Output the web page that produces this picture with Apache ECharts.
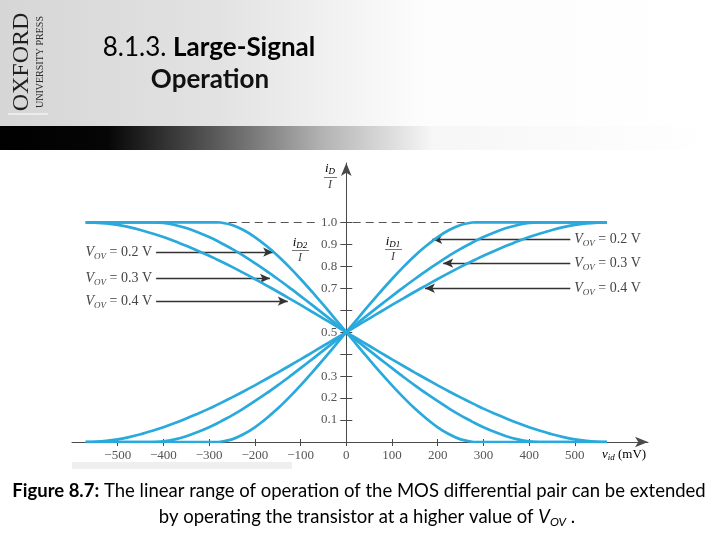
<!DOCTYPE html>
<html>
<head>
<meta charset="utf-8">
<script src="https://cdn.jsdelivr.net/npm/echarts@6/dist/echarts.min.js"></script>
<style>html,body{margin:0;padding:0;background:#fff}#c{width:720px;height:540px}</style>
</head>
<body>
<div id="c"></div>
<script>
// ---- data ----
const vid = [-570,-566,-550,-525,-500,-475,-450,-424,-400,-375,-350,-325,-300,-283,-275,-250,-225,-200,-175,-150,-125,-100,-75,-50,-25,0,25,50,75,100,125,150,175,200,225,250,275,283,300,325,350,375,400,424,450,475,500,525,550,566,570];
const iD1_02 = [0,0,0,0,0,0,0,0,0,0,0,0,0,0,0.001,0.012,0.035,0.067,0.107,0.152,0.203,0.258,0.316,0.376,0.438,0.5,0.562,0.624,0.684,0.742,0.797,0.848,0.893,0.933,0.965,0.988,0.999,1,1,1,1,1,1,1,1,1,1,1,1,1,1];
const iD1_03 = [0,0,0,0,0,0,0,0,0.003,0.012,0.026,0.045,0.067,0.084,0.093,0.121,0.152,0.186,0.221,0.258,0.296,0.336,0.376,0.417,0.458,0.5,0.542,0.583,0.624,0.664,0.704,0.742,0.779,0.814,0.848,0.879,0.907,0.916,0.933,0.955,0.974,0.988,0.997,1,1,1,1,1,1,1,1];
const iD1_04 = [0,0,0.001,0.005,0.012,0.022,0.035,0.051,0.067,0.086,0.107,0.129,0.152,0.169,0.177,0.203,0.230,0.258,0.287,0.316,0.346,0.376,0.407,0.438,0.469,0.5,0.531,0.562,0.593,0.624,0.654,0.684,0.713,0.742,0.770,0.797,0.823,0.831,0.848,0.871,0.893,0.914,0.933,0.949,0.965,0.978,0.988,0.995,0.999,1,1];
const iD2_02 = [1,1,1,1,1,1,1,1,1,1,1,1,1,1,0.999,0.988,0.965,0.933,0.893,0.848,0.797,0.742,0.684,0.624,0.562,0.5,0.438,0.376,0.316,0.258,0.203,0.152,0.107,0.067,0.035,0.012,0.001,0,0,0,0,0,0,0,0,0,0,0,0,0,0];
const iD2_03 = [1,1,1,1,1,1,1,1,0.997,0.988,0.974,0.955,0.933,0.916,0.907,0.879,0.848,0.814,0.779,0.742,0.704,0.664,0.624,0.583,0.542,0.5,0.458,0.417,0.376,0.336,0.296,0.258,0.221,0.186,0.152,0.121,0.093,0.084,0.067,0.045,0.026,0.012,0.003,0,0,0,0,0,0,0,0];
const iD2_04 = [1,1,0.999,0.995,0.988,0.978,0.965,0.949,0.933,0.914,0.893,0.871,0.848,0.831,0.823,0.797,0.770,0.742,0.713,0.684,0.654,0.624,0.593,0.562,0.531,0.5,0.469,0.438,0.407,0.376,0.346,0.316,0.287,0.258,0.230,0.203,0.177,0.169,0.152,0.129,0.107,0.086,0.067,0.051,0.035,0.022,0.012,0.005,0.001,0,0];

const xTickValues = [-500,-400,-300,-200,-100,0,100,200,300,400,500];
const xTickLabels = ['\u2212500','\u2212400','\u2212300','\u2212200','\u2212100','0','100','200','300','400','500'];
const yTickValues = [0.1,0.2,0.3,0.4,0.5,0.6,0.7,0.8,0.9,1.0];
const yLabelValues = [0.1,0.2,0.3,0.5,0.7,0.8,0.9,1.0];
const yTickLabels = ['0.1','0.2','0.3','0.5','0.7','0.8','0.9','1.0'];

const vovLabels = ['0.2 V','0.3 V','0.4 V'];
// arrow annotations: [tailVid, tipVid, level]
const leftArrows = [[-416,-160,0.864],[-416,-167,0.745],[-416,-128,0.641]];
const rightArrows = [[490,188,0.923],[490,212,0.814],[490,172,0.700]];

// ---- build ----
const CURVE = '#29a9dc';
const AX = '#4a4a4a';
const serif = '"Liberation Serif","DejaVu Serif",serif';
const pairs = (ys) => vid.map((v, i) => [v, ys[i]]);
const X_MIN = -600, X_MAX = 660, GRID_L = 72, GRID_R = 72, W = 720;
// shift the y axis to sit on vid = 0
const yOffset = -((0 - X_MIN) / (X_MAX - X_MIN)) * (W - GRID_L - GRID_R);

const vovRich = {
  v: {fontFamily: serif, fontStyle: 'italic', fontSize: 14, color: '#444', lineHeight: 18},
  s: {fontFamily: serif, fontStyle: 'italic', fontSize: 9, color: '#444', lineHeight: 9, verticalAlign: 'bottom'},
  n: {fontFamily: serif, fontSize: 14, color: '#444', lineHeight: 18}
};
function arrowItems(list) {
  return list.map((a, i) => [
    {coord: [a[0], a[2]], label: {formatter: '{v|V}{s|OV}{n| = ' + vovLabels[i] + '}'}},
    {coord: [a[1], a[2]]}
  ]);
}

function curve(name, ys) {
  return {
    name: name, type: 'line', data: pairs(ys), showSymbol: false, smooth: 0.25,
    lineStyle: {color: CURVE, width: 2.7}, itemStyle: {color: CURVE}, z: 5, silent: true
  };
}

const fracRich = {
  i: {fontFamily: serif, fontStyle: 'italic', fontSize: 13, color: '#444', lineHeight: 14},
  s: {fontFamily: serif, fontStyle: 'italic', fontSize: 9, color: '#444', lineHeight: 9, verticalAlign: 'bottom'}
};

const chart = echarts.init(document.getElementById('c'), null, {renderer: 'canvas'});
const option = {
  animation: false,
  backgroundColor: '#ffffff',
  grid: {left: GRID_L, right: GRID_R, top: 163, bottom: 98},
  xAxis: [{
    type: 'value', min: X_MIN, max: X_MAX,
    axisLine: {show: true, onZero: false, symbol: ['none', 'arrow'], symbolSize: [8, 13], lineStyle: {color: AX, width: 1}},
    axisTick: {show: true, customValues: xTickValues, length: 4, lineStyle: {color: AX}},
    axisLabel: {customValues: xTickValues, formatter: (v) => xTickLabels[xTickValues.indexOf(v)], color: '#555', fontFamily: serif, fontSize: 13, margin: 7},
    splitLine: {show: false}
  }, {
    type: 'value', min: X_MIN, max: X_MAX, position: 'bottom',
    axisLine: {show: false, onZero: false},
    axisTick: {show: true, inside: true, customValues: xTickValues, length: 3, lineStyle: {color: AX}},
    axisLabel: {show: false}, splitLine: {show: false}
  }],
  yAxis: [{
    type: 'value', min: 0, max: 1.27, position: 'left', offset: yOffset,
    axisLine: {show: true, onZero: false, symbol: ['none', 'arrow'], symbolSize: [8, 13], lineStyle: {color: AX, width: 1}},
    axisTick: {show: true, customValues: yTickValues, length: 6, lineStyle: {color: AX}},
    axisLabel: {customValues: yLabelValues, formatter: (v) => yTickLabels[yLabelValues.indexOf(Math.round(v * 10) / 10)], color: '#555', fontFamily: serif, fontSize: 13, margin: 9},
    splitLine: {show: false}
  }, {
    type: 'value', min: 0, max: 1.27, position: 'left', offset: yOffset,
    axisLine: {show: false, onZero: false},
    axisTick: {show: true, inside: true, customValues: yTickValues, length: 6, lineStyle: {color: AX}},
    axisLabel: {show: false}, splitLine: {show: false}
  }],
  series: [
    {
      name: 'ref', type: 'line', data: [], silent: true, z: 3,
      markLine: {
        silent: true, symbol: ['none', 'none'], animation: false,
        lineStyle: {color: '#555', width: 1, type: [8, 5]},
        label: {show: false},
        data: [
          [{coord: [-570, 1]}, {coord: [-60, 1]}],
          [{coord: [14, 1]}, {coord: [570, 1]}]
        ]
      }
    },
    curve('iD2 VOV=0.2', iD2_02),
    curve('iD2 VOV=0.3', iD2_03),
    curve('iD2 VOV=0.4', iD2_04),
    curve('iD1 VOV=0.2', iD1_02),
    curve('iD1 VOV=0.3', iD1_03),
    curve('iD1 VOV=0.4', iD1_04),
    {
      name: 'arrows', type: 'line', data: [], silent: true, z: 6,
      markLine: {
        silent: true, animation: false, symbol: ['none', 'arrow'], symbolSize: [7, 10],
        lineStyle: {color: '#333', width: 1.4, type: 'solid'},
        label: {show: true, position: 'start', distance: 4, rich: vovRich},
        data: arrowItems(leftArrows).concat(arrowItems(rightArrows))
      }
    }
  ],
  graphic: [
    // slide header background
    {type: 'rect', z: -10, shape: {x: 0, y: 0, width: 720, height: 126},
     style: {fill: new echarts.graphic.LinearGradient(0, 0, 1, 0, [
       {offset: 0, color: '#d6d6d6'}, {offset: 0.3, color: '#e2e2e2'}, {offset: 0.58, color: '#fcfcfc'}, {offset: 1, color: '#ffffff'}])}},
    {type: 'rect', z: -10, shape: {x: 0, y: 126, width: 720, height: 24},
     style: {fill: new echarts.graphic.LinearGradient(0, 0, 1, 0, [
       {offset: 0, color: '#000000'}, {offset: 0.15, color: '#060606'}, {offset: 0.3, color: '#5a5a5a'},
       {offset: 0.45, color: '#b4b4b4'}, {offset: 0.6, color: '#f6f6f6'}, {offset: 1, color: '#ffffff'}])}},
    // Oxford logo
    {type: 'text', x: 22, y: 62, rotation: Math.PI / 2,
     style: {text: 'OXFORD', font: '24px ' + serif, fill: '#1e1e1e', align: 'center', verticalAlign: 'middle'}},
    {type: 'text', x: 40, y: 62, rotation: Math.PI / 2,
     style: {text: 'UNIVERSITY PRESS', font: '10px ' + serif, fill: '#2a2a2a', align: 'center', verticalAlign: 'middle'}},
    {type: 'line', shape: {x1: 8, y1: 114, x2: 48, y2: 114}, style: {stroke: '#ffffff', lineWidth: 1.2}},
    // title
    {type: 'text', x: 209, y: 48,
     style: {text: '{n|8.1.3. }{b|Large-Signal}', align: 'center', verticalAlign: 'middle',
       rich: {n: {fontFamily: 'Lato', fontSize: 26, color: '#111'}, b: {fontFamily: 'Lato', fontWeight: 'bold', fontSize: 26, color: '#111'}}}},
    {type: 'text', x: 210, y: 80,
     style: {text: 'Operation', font: 'bold 26px Lato', fill: '#111', align: 'center', verticalAlign: 'middle'}},
    // axis names
    {type: 'text', x: 330, y: 169,
     style: {text: '{i|i}{s|D}', align: 'center', verticalAlign: 'middle', rich: fracRich}},
    {type: 'line', shape: {x1: 324, y1: 177.5, x2: 337, y2: 177.5}, style: {stroke: '#555', lineWidth: 0.8}},
    {type: 'text', x: 330, y: 185,
     style: {text: 'I', font: 'italic 12px ' + serif, fill: '#444', align: 'center', verticalAlign: 'middle'}},
    {type: 'text', x: 300, y: 243,
     style: {text: '{i|i}{s|D2}', align: 'center', verticalAlign: 'middle', rich: fracRich}},
    {type: 'line', shape: {x1: 292, y1: 250.5, x2: 309, y2: 250.5}, style: {stroke: '#555', lineWidth: 0.8}},
    {type: 'text', x: 300, y: 258,
     style: {text: 'I', font: 'italic 12px ' + serif, fill: '#444', align: 'center', verticalAlign: 'middle'}},
    {type: 'text', x: 393, y: 242,
     style: {text: '{i|i}{s|D1}', align: 'center', verticalAlign: 'middle', rich: fracRich}},
    {type: 'line', shape: {x1: 385, y1: 249.5, x2: 402, y2: 249.5}, style: {stroke: '#555', lineWidth: 0.8}},
    {type: 'text', x: 393, y: 257,
     style: {text: 'I', font: 'italic 12px ' + serif, fill: '#444', align: 'center', verticalAlign: 'middle'}},
    {type: 'text', x: 602, y: 455,
     style: {text: '{i|v}{s|id}{n| (mV)}', align: 'left', verticalAlign: 'middle',
       rich: {i: {fontFamily: serif, fontStyle: 'italic', fontSize: 13, color: '#555', lineHeight: 14},
              s: {fontFamily: serif, fontStyle: 'italic', fontSize: 9, color: '#555', lineHeight: 9, verticalAlign: 'bottom'},
              n: {fontFamily: serif, fontSize: 13, color: '#555', lineHeight: 14}}}},
    // stray light band under x labels
    {type: 'rect', z: -5, shape: {x: 72, y: 462, width: 220, height: 7}, style: {fill: '#efefef'}},
    // caption
    {type: 'text', x: 359, y: 491,
     style: {text: '{b|Figure 8.7:}{n| The linear range of operation of the MOS differential pair can be extended}', align: 'center', verticalAlign: 'middle',
       rich: {b: {fontFamily: 'Lato', fontWeight: 'bold', fontSize: 18.5, color: '#111'}, n: {fontFamily: 'Lato', fontSize: 18.5, color: '#111'}}}},
    {type: 'text', x: 367, y: 517,
     style: {text: '{n|by operating the transistor at a higher value of }{v|V}{s|OV}{n| .}', align: 'center', verticalAlign: 'middle',
       rich: {n: {fontFamily: 'Lato', fontSize: 18.5, color: '#111', lineHeight: 22},
              v: {fontFamily: 'Lato', fontStyle: 'italic', fontSize: 18.5, color: '#111', lineHeight: 22},
              s: {fontFamily: 'Lato', fontStyle: 'italic', fontSize: 12, color: '#111', lineHeight: 12, verticalAlign: 'bottom'}}}}
  ]
};
chart.setOption(option);
</script>
</body>
</html>
